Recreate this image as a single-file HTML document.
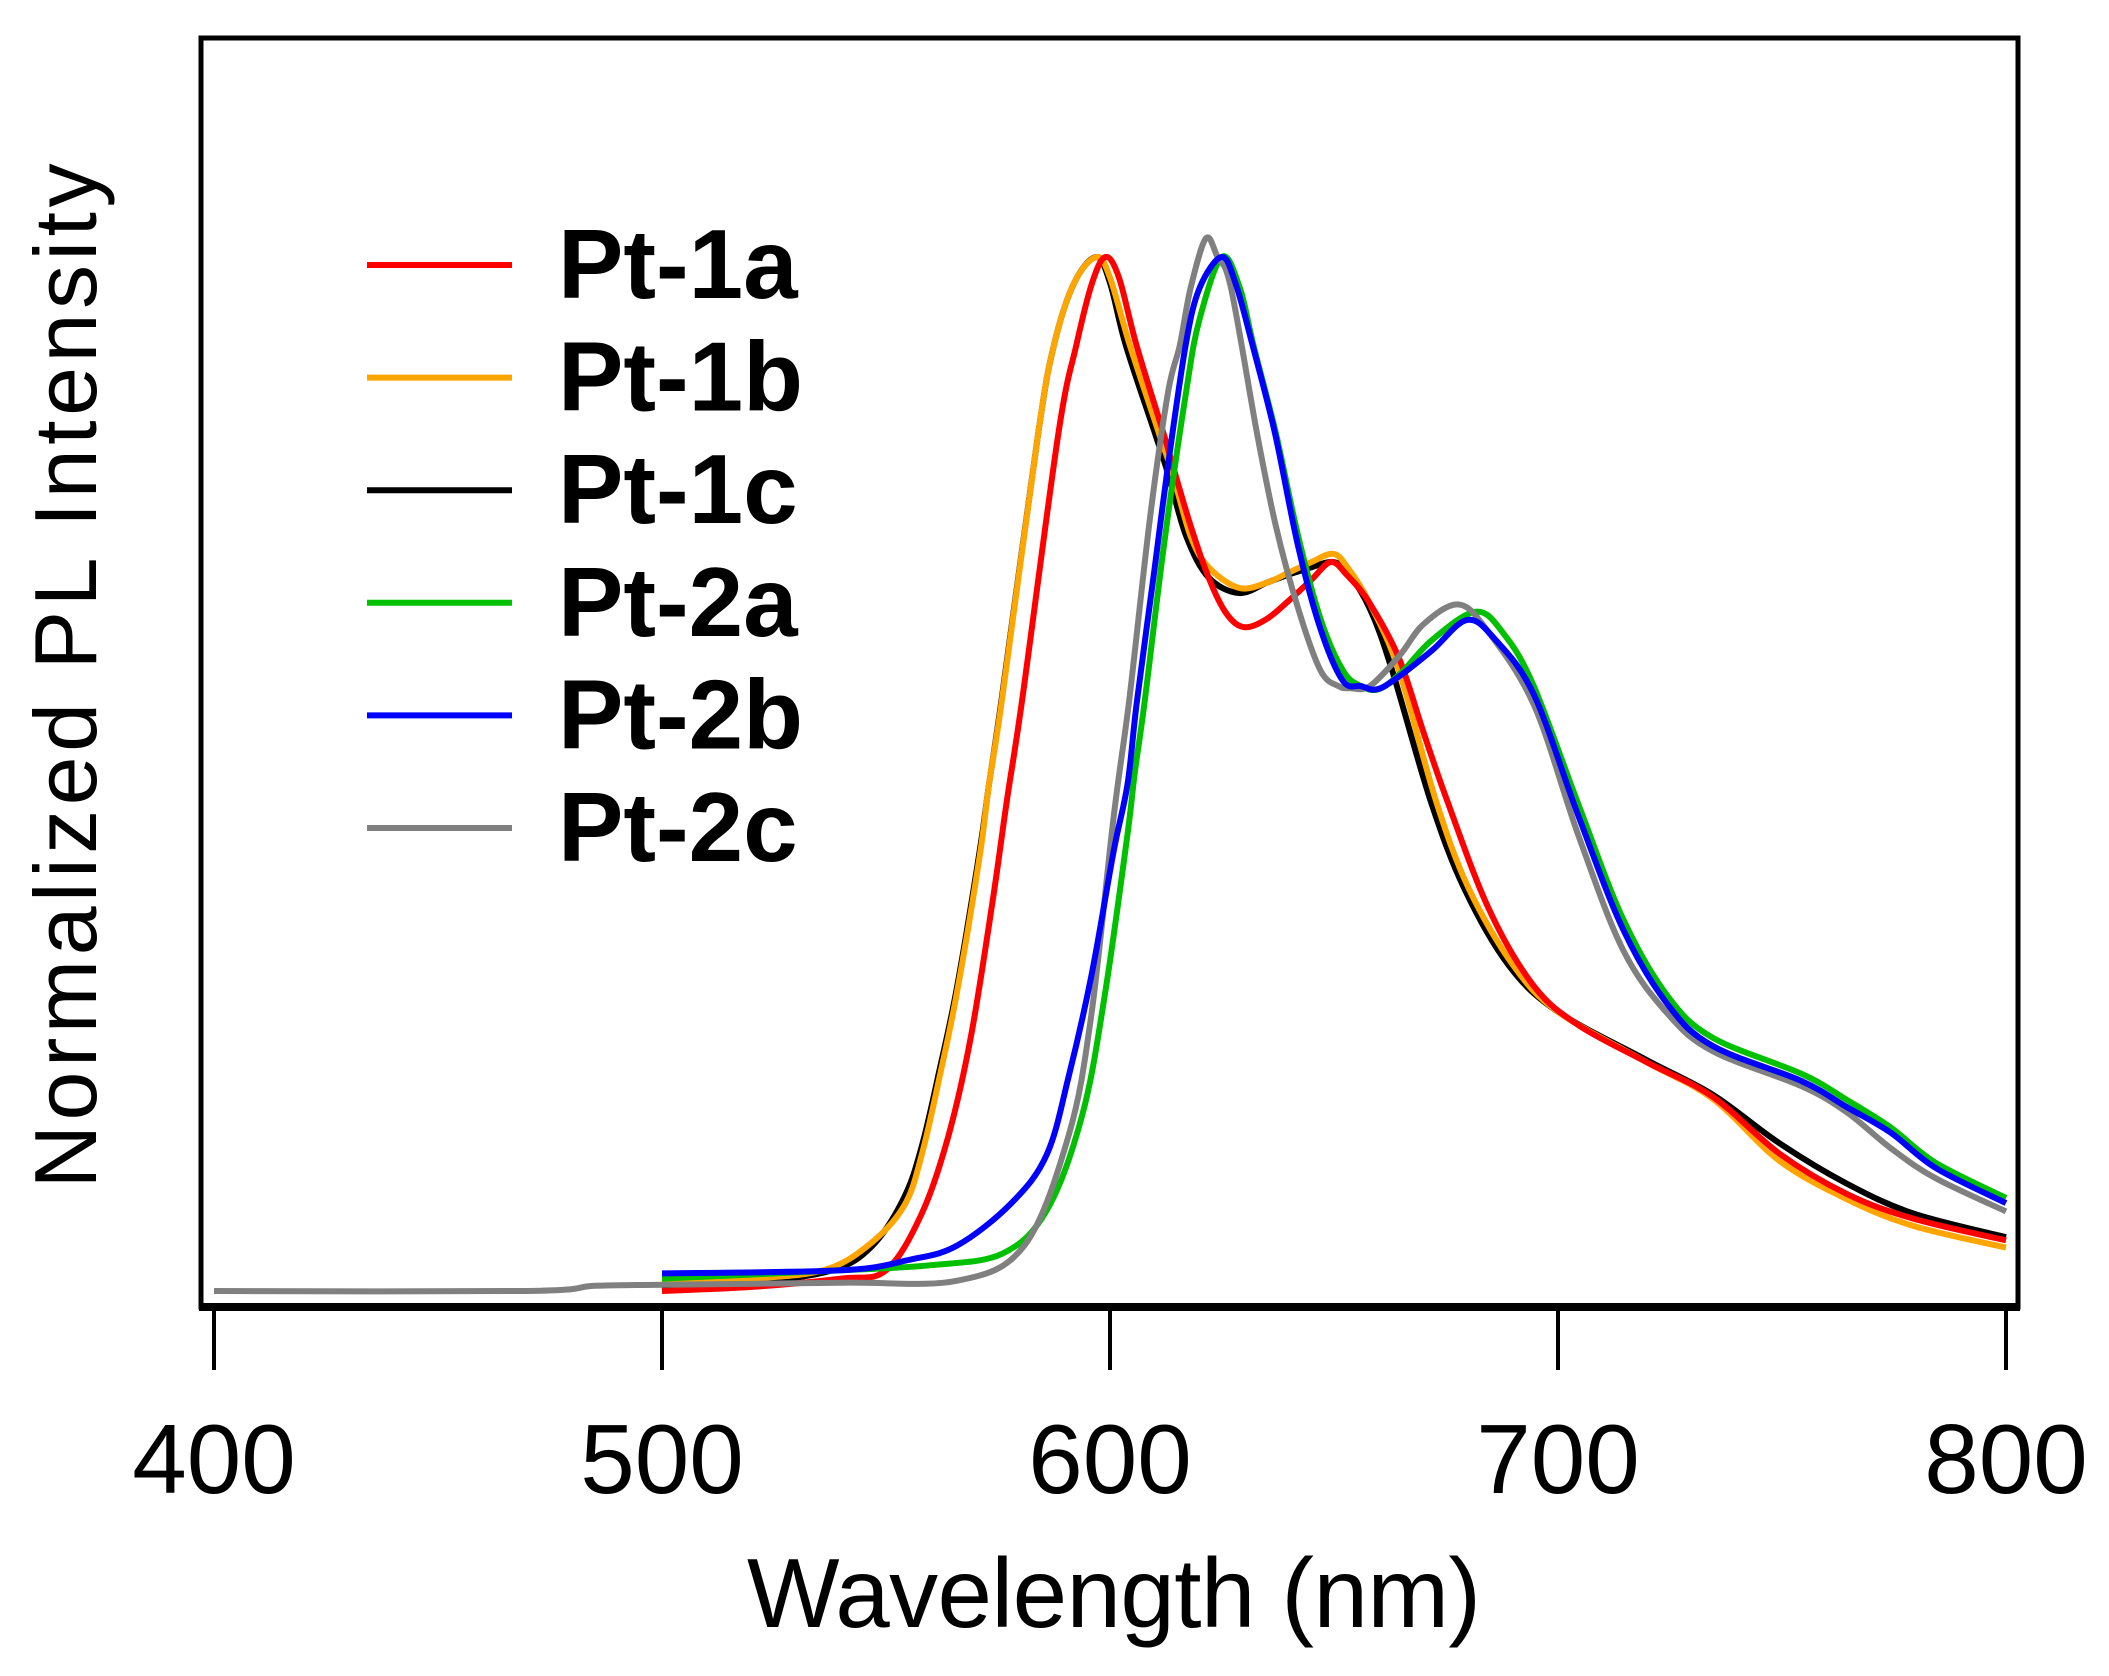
<!DOCTYPE html>
<html><head><meta charset="utf-8"><style>
html,body{margin:0;padding:0;background:#fff;}
svg{display:block;font-family:"Liberation Sans",Arial,sans-serif;}
</style></head><body>
<svg id="chart" width="2109" height="1676" viewBox="0 0 2109 1676" xmlns="http://www.w3.org/2000/svg">
<rect x="0" y="0" width="2109" height="1676" fill="#fff"/>
<g id="series"></g>
<rect x="201" y="38" width="1817" height="1269" fill="none" stroke="#000" stroke-width="5"/>
<line x1="199" y1="1307" x2="2020" y2="1307" stroke="#000" stroke-width="8"/>
<g id="ticks"></g>
<text x="1114" y="1627" font-size="98" text-anchor="middle" textLength="734">Wavelength (nm)</text>
<text transform="translate(96,676) rotate(-90)" font-size="88" text-anchor="middle" textLength="1025">Normalized PL Intensity</text>
<g id="legend"></g>
</svg>
<script>
const tickValues = [400, 500, 600, 700, 800];
const tickLabels = ["400", "500", "600", "700", "800"];
const seriesNames = ["Pt-1a", "Pt-1b", "Pt-1c", "Pt-2a", "Pt-2b", "Pt-2c"];
const seriesColors = ["#ff0000", "#ffa500", "#000000", "#00c000", "#0000ff", "#808080"];
const pt1a = [[500,0],[520,0.004],[540,0.012],[550,0.02],[558,0.075],[564,0.151],[569,0.247],[573.9,0.38],[577,0.475],[580.4,0.572],[588.5,0.83],[592.5,0.915],[596,0.975],[599,1.0],[602,0.98],[605.9,0.915],[611.9,0.83],[613.9,0.80],[618,0.74],[622,0.69],[626,0.655],[630,0.642],[635,0.65],[640,0.668],[645,0.688],[649.3,0.705],[653,0.692],[658,0.665],[664.5,0.612],[670,0.54],[675.2,0.475],[684.5,0.37],[694.6,0.295],[704.6,0.257],[719.5,0.222],[734.5,0.188],[749.4,0.133],[764.4,0.094],[779.3,0.07],[800,0.049]];
const pt1b = [[500,0.008],[520,0.012],[536,0.02],[546,0.044],[554,0.082],[558,0.132],[562,0.208],[565.9,0.29],[570.9,0.42],[573,0.49],[575.9,0.572],[584,0.83],[587.5,0.915],[592,0.975],[597,1.0],[600,0.98],[604.4,0.915],[610.9,0.83],[614,0.79],[618,0.73],[622,0.70],[628.8,0.68],[635,0.685],[640,0.695],[645,0.705],[649.8,0.713],[653,0.70],[658,0.665],[664.5,0.6],[672.7,0.475],[680,0.39],[690,0.315],[700,0.27],[719.5,0.222],[734.5,0.186],[749.4,0.126],[764.4,0.089],[779.3,0.063],[800,0.042]];
const pt1c = [[500,0.003],[520,0.008],[538,0.02],[547,0.044],[554,0.09],[558,0.14],[562,0.215],[565.9,0.295],[570.9,0.425],[573,0.49],[575.9,0.575],[584,0.83],[587.5,0.915],[592,0.975],[597,1.0],[600,0.975],[603.5,0.915],[610,0.83],[613,0.79],[617,0.73],[622,0.69],[628.8,0.675],[635,0.685],[640,0.693],[645,0.70],[649.8,0.705],[653,0.695],[658,0.66],[663,0.6],[671.5,0.475],[679,0.39],[689,0.315],[700,0.27],[719.5,0.224],[734.5,0.19],[749.4,0.143],[764.4,0.104],[779.3,0.075],[800,0.052]];
const pt2a = [[500,0.012],[540,0.02],[560,0.025],[575.9,0.036],[585.9,0.078],[593.8,0.17],[598.8,0.285],[603.8,0.438],[605.5,0.5],[607.8,0.572],[612,0.72],[617,0.87],[620,0.94],[625,1.0],[629,0.97],[632,0.915],[637,0.83],[642,0.73],[647,0.65],[652,0.6],[656,0.585],[660,0.582],[665,0.598],[672,0.63],[681.7,0.657],[688,0.635],[694.6,0.585],[704.6,0.47],[714.5,0.36],[724.5,0.285],[734.5,0.245],[754.4,0.21],[764.4,0.185],[774.3,0.158],[784.3,0.124],[800,0.09]];
const pt2b = [[500,0.017],[540,0.02],[555,0.03],[565.9,0.044],[578,0.085],[585.9,0.132],[590.8,0.208],[595.8,0.304],[600.8,0.425],[603.9,0.49],[606,0.57],[610,0.70],[613,0.80],[616.9,0.915],[620,0.97],[624.9,1.0],[628,0.975],[631.8,0.915],[636.8,0.83],[642,0.72],[647,0.64],[652,0.59],[656,0.585],[659.7,0.582],[664.7,0.595],[672,0.62],[679.7,0.649],[686,0.63],[694.6,0.577],[704.6,0.459],[714.5,0.35],[724.5,0.277],[734.5,0.237],[754.4,0.203],[764.4,0.178],[774.3,0.153],[784.3,0.119],[800,0.085]];
const pt2c = [[400,0],[470,0],[485,0.005],[500,0.006],[540,0.008],[565.9,0.01],[580.9,0.044],[590.8,0.151],[595.8,0.266],[600.8,0.458],[604.3,0.572],[609,0.75],[613,0.87],[615.6,0.915],[618,0.97],[621.4,1.018],[624,1.0],[627,0.97],[632.8,0.83],[637,0.74],[642,0.66],[647,0.6],[651,0.585],[653.7,0.583],[658,0.585],[664.7,0.615],[670,0.645],[677.7,0.664],[684,0.64],[694.6,0.567],[704.6,0.44],[714.5,0.33],[724.5,0.268],[734.5,0.232],[754.4,0.198],[764.4,0.173],[774.3,0.138],[784.3,0.109],[800,0.077]];

const NS = "http://www.w3.org/2000/svg";
function xScale(nm){ return 214 + (nm - 400) * 4.48; }
function yScale(v){ return 1291 - v * 1034; }
function pathFrom(data){
  const p = data.map(d => [xScale(d[0]), yScale(d[1])]);
  let s = "M" + p[0][0].toFixed(1) + "," + p[0][1].toFixed(1);
  for (let i = 0; i < p.length - 1; i++) {
    const p0 = p[i-1] || p[i], p1 = p[i], p2 = p[i+1], p3 = p[i+2] || p[i+1];
    const c1x = p1[0] + (p2[0]-p0[0])/6, c1y = p1[1] + (p2[1]-p0[1])/6;
    const c2x = p2[0] - (p3[0]-p1[0])/6, c2y = p2[1] - (p3[1]-p1[1])/6;
    s += " C" + c1x.toFixed(1)+","+c1y.toFixed(1)+" "+c2x.toFixed(1)+","+c2y.toFixed(1)+" "+p2[0].toFixed(1)+","+p2[1].toFixed(1);
  }
  return s;
}
const allSeries = [pt1a, pt1b, pt1c, pt2a, pt2b, pt2c];
const drawOrder = [2, 1, 0, 3, 5, 4];
const sg = document.getElementById("series");
drawOrder.forEach(i => {
  const el = document.createElementNS(NS, "path");
  el.setAttribute("d", pathFrom(allSeries[i]));
  el.setAttribute("fill", "none");
  el.setAttribute("stroke", seriesColors[i]);
  el.setAttribute("stroke-width", "6");
  el.setAttribute("stroke-linejoin", "round");
  
  
  sg.appendChild(el);
});
const tg = document.getElementById("ticks");
tickValues.forEach((t, i) => {
  const ln = document.createElementNS(NS, "line");
  ln.setAttribute("x1", xScale(t)); ln.setAttribute("x2", xScale(t));
  ln.setAttribute("y1", 1307); ln.setAttribute("y2", 1370);
  ln.setAttribute("stroke", "#000"); ln.setAttribute("stroke-width", "4");
  
  
  tg.appendChild(ln);
  const tx = document.createElementNS(NS, "text");
  tx.setAttribute("x", xScale(t)); tx.setAttribute("y", 1493);
  tx.setAttribute("font-size", "98"); tx.setAttribute("text-anchor", "middle");
  tx.textContent = tickLabels[i];
  
  
  tg.appendChild(tx);
});
const lg = document.getElementById("legend");
seriesNames.forEach((n, i) => {
  const y = 265 + i * 112.6;
  const g = document.createElementNS(NS, "g");
  
  
  const ln = document.createElementNS(NS, "line");
  ln.setAttribute("x1", 367); ln.setAttribute("x2", 512);
  ln.setAttribute("y1", y); ln.setAttribute("y2", y);
  ln.setAttribute("stroke", seriesColors[i]); ln.setAttribute("stroke-width", "6");
  
  
  g.appendChild(ln);
  const tx = document.createElementNS(NS, "text");
  tx.setAttribute("x", 558); tx.setAttribute("y", y + 33);
  tx.setAttribute("font-size", "98"); tx.setAttribute("font-weight", "bold");
  tx.textContent = n;
  
  
  g.appendChild(tx);
  lg.appendChild(g);
});
</script>
</body></html>
